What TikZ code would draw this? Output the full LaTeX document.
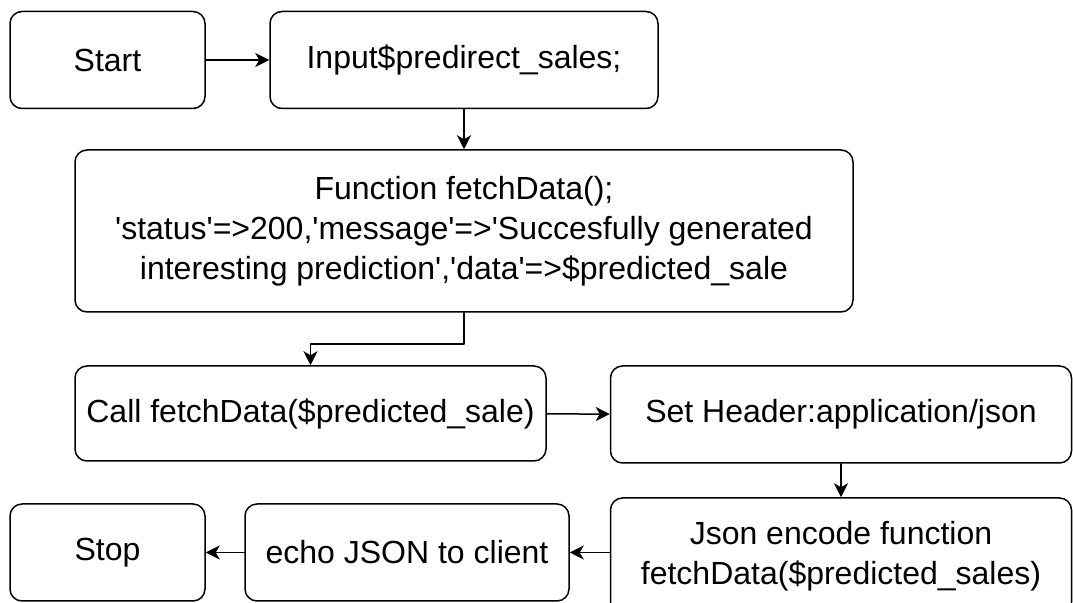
\documentclass[tikz,border=0pt]{standalone}
\usepackage{fontspec}
\setmainfont{Liberation Sans}
\usetikzlibrary{arrows.meta}
\newcommand{\sq}{\textquotesingle}
\begin{document}
\begin{tikzpicture}[line cap=round,line join=round,>={Stealth[length=7pt,width=7pt,inset=2pt]},x=0.5pt,y=-0.5pt,
    flowbox/.style={draw=black,line width=0.75pt,rounded corners=6pt,inner sep=0pt,align=center,
      font=\fontsize{16}{20}\selectfont},
    flowarrow/.style={->,line width=0.75pt}]
      \useasboundingbox (0,0) rectangle (1073,603);
      \clip (0,0) rectangle (1073,603);
      \node[flowbox,minimum width=195*0.5pt,minimum height=97*0.5pt] (start) at (107.5,60) {Start};
      \node[flowbox,minimum width=388*0.5pt,minimum height=97*0.5pt] (input) at (464,60) {Input\$predirect\_sales;};
      \node[flowbox,minimum width=778*0.5pt,minimum height=162*0.5pt] (func) at (464,231)
        {Function fetchData();\\\sq status\sq=>200,\sq message\sq=>\sq Succesfully generated\\interesting prediction\sq,\sq data\sq=>\$predicted\_sale};
      \node[flowbox,minimum width=471*0.5pt,minimum height=95*0.5pt] (call) at (310.5,413.5) {Call fetchData(\$predicted\_sale)};
      \node[flowbox,minimum width=461*0.5pt,minimum height=97*0.5pt] (header) at (841,414.5) {Set Header:application/json};
      \node[flowbox,minimum width=461*0.5pt,minimum height=116*0.5pt] (encode) at (841,556) {Json encode function\\fetchData(\$predicted\_sales)};
      \node[flowbox,minimum width=324*0.5pt,minimum height=97*0.5pt] (echo) at (407,552.5) {echo JSON to client};
      \node[flowbox,minimum width=195*0.5pt,minimum height=97*0.5pt] (stop) at (107.5,552.5) {Stop};
      \coordinate (bend) at (464,344);
      \draw[flowarrow] (start) -- (input);
      \draw[flowarrow] (input) -- (func);
      \draw[flowarrow] (func.south) -- (bend) -| (call.north);
      \draw[flowarrow] (call) -- (header);
      \draw[flowarrow] (header) -- (encode);
      \draw[flowarrow] (encode.west |- echo.east) -- (echo.east);
      \draw[flowarrow] (echo) -- (stop);
\end{tikzpicture}
\end{document}
